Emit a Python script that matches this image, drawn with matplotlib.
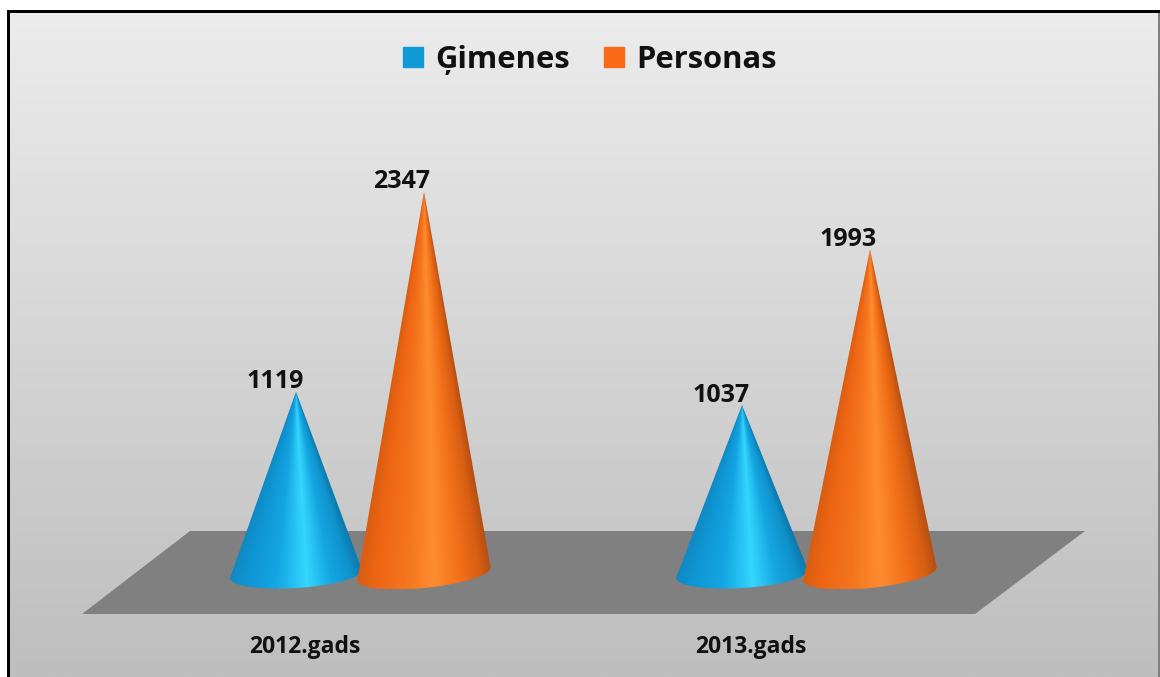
# plot.py

import numpy as np
import matplotlib
matplotlib.use("Agg")
import matplotlib.pyplot as plt
from matplotlib.colors import LinearSegmentedColormap
from matplotlib.patches import Polygon, Rectangle

CATEGORIES = ["2012.gads", "2013.gads"]
SERIES = ["Ģimenes", "Personas"]
GIMENES = [1119, 1037]
PERSONAS = [2347, 1993]

W, H = 1160, 677
PX_PER_VALUE = 0.1629   # vertical pixels for one unit
PX_PER_CAT = 446
X0_PX, Y0_PX = 360, 574

FONT = "Open Sans"

CMAP_BLUE = LinearSegmentedColormap.from_list("blue", [
    (0.00, "#0f88c2"), (0.15, "#0f96d4"), (0.36, "#14a6e2"),
    (0.58, "#35d6ff"), (0.76, "#14a6e0"), (0.92, "#0f92cc"), (1.00, "#0d7cb0")])
CMAP_ORANGE = LinearSegmentedColormap.from_list("orange", [
    (0.00, "#d85c10"), (0.15, "#ee6614"), (0.36, "#f4741e"),
    (0.58, "#ff8c30"), (0.78, "#f06e18"), (0.92, "#d85e12"), (1.00, "#b85012")])


def px_x(px):
    return (px - X0_PX) / PX_PER_CAT


def px_y(py):
    return (Y0_PX - py) / PX_PER_VALUE


def draw_cone(ax, x, value, half_w, depth, tilt, cmap):
    # outline: tip, then the front of the tilted base, shading fans out from the tip
    theta = np.linspace(np.pi, 0, 120)
    bx = x + half_w * np.cos(theta)
    by = -depth * np.sin(theta) + tilt * np.cos(theta)
    outline = np.vstack([[x, value], np.column_stack([bx, by])])
    xs = np.linspace(x - half_w, x + half_w, 300)
    ys = np.linspace(by.min(), value, 500)
    gx, gy = np.meshgrid(xs, ys)
    u = (gx - x) / np.maximum(value - gy, 1e-6) * value / (2 * half_w) + 0.5
    img = ax.imshow(cmap(np.clip(u, 0, 1)), origin="lower", aspect="auto", zorder=3,
                    extent=(xs[0], xs[-1], ys[0], ys[-1]), interpolation="bilinear")
    clip = Polygon(outline, closed=True, transform=ax.transData, facecolor="none", edgecolor="none")
    ax.add_patch(clip)
    img.set_clip_path(clip)


fig = plt.figure(figsize=(W / 100, H / 100), dpi=100, facecolor="white")
ax = fig.add_axes([0, 0, 1, 1])
ax.axis("off")

# panel background
shade = LinearSegmentedColormap.from_list("bg", ["#ececec", "#bebebe"])
ax.imshow(np.linspace(0, 1, 256).reshape(-1, 1), cmap=shade, aspect="auto", zorder=0,
          extent=(px_x(9), px_x(1158), px_y(H), px_y(12)))
ax.add_patch(Rectangle((px_x(1158), px_y(H)), 2 / PX_PER_CAT, (H - 10) / PX_PER_VALUE,
                       color="#808080", lw=0, zorder=1))
ax.add_patch(Rectangle((px_x(7), px_y(H)), 3 / PX_PER_CAT, (H - 10) / PX_PER_VALUE,
                       color="black", lw=0, zorder=2))
ax.add_patch(Rectangle((px_x(7), px_y(13)), 1153 / PX_PER_CAT, 3 / PX_PER_VALUE,
                       color="black", lw=0, zorder=2))

# floor
floor = [(190, 531), (1085, 531), (975, 614), (82, 614)]
ax.add_patch(Polygon([(px_x(a), px_y(b)) for a, b in floor], closed=True,
                     facecolor="#808080", edgecolor="none", zorder=1))

offset = 64 / PX_PER_CAT
half_w = 66 / PX_PER_CAT
depth = 14 / PX_PER_VALUE
label_kw = dict(ha="center", va="center", fontweight="bold", family=FONT, color="#111111", zorder=4)

for i, cat in enumerate(CATEGORIES):
    draw_cone(ax, i - offset, GIMENES[i], half_w, depth, 4 / PX_PER_VALUE, CMAP_BLUE)
    draw_cone(ax, i + offset, PERSONAS[i], half_w * 1.01, depth, 6.5 / PX_PER_VALUE, CMAP_ORANGE)
    ax.text(i - offset - 21 / PX_PER_CAT, GIMENES[i] + 10 / PX_PER_VALUE, str(GIMENES[i]),
            fontsize=18, **label_kw)
    ax.text(i + offset - 22 / PX_PER_CAT, PERSONAS[i] + 10 / PX_PER_VALUE, str(PERSONAS[i]),
            fontsize=18, **label_kw)
    ax.text(i - 55 / PX_PER_CAT, px_y(647), cat, fontsize=16.5, **label_kw)

ax.set_xlim(px_x(0), px_x(W))
ax.set_ylim(px_y(H), px_y(0))

handles = [Rectangle((0, 0), 1, 1, color="#0f9ad6"), Rectangle((0, 0), 1, 1, color="#f86a18")]
leg = ax.legend(handles, SERIES, loc="center", bbox_to_anchor=(590 / W, 1 - 60 / H), ncol=2,
                frameon=False, handlelength=0.64, handleheight=0.64, handletextpad=0.4,
                columnspacing=1.1, prop={"family": FONT, "weight": "bold", "size": 22.3})
for t in leg.get_texts():
    t.set_color("#111111")

fig.savefig("out.png", dpi=100, facecolor="white")
